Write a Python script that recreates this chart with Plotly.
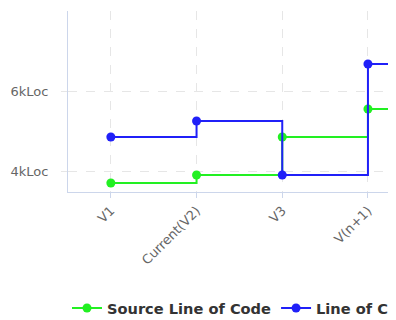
import plotly.graph_objects as go

# versions on the x axis (the last one lies past the right edge of the view)
versions = ['V1', 'Current(V2)', 'V3', 'V(n+1)', 'V(n+2)']
# lines of code per version
source_loc = [3700, 3900, 4850, 5550, 5550]
total_loc = [4850, 5250, 3900, 6675, 6675]
y_ticks = [4000, 6000]
y_tick_text = ['4kLoc', '6kLoc']

green = '#22f022'
blue = '#2020f8'

# the page body has an 8px margin, so the figure is drawn 8px smaller
W, H = 388, 312
left, top, bottom = 60, 3, 184

fig = go.Figure()
fig.add_trace(go.Scatter(
    x=versions, y=source_loc, name='Source Line of Code',
    mode='lines+markers', line_shape='hv',
    line=dict(color=green, width=2), marker=dict(color=green, size=9)
))
fig.add_trace(go.Scatter(
    x=versions, y=total_loc, name='Line of Code',
    mode='lines+markers', line_shape='hv',
    line=dict(color=blue, width=2), marker=dict(color=blue, size=9)
))

fig.update_layout(
    width=W, height=H,
    margin=dict(l=left, r=0, t=top, b=H - bottom, autoexpand=False),
    plot_bgcolor='white', paper_bgcolor='white',
    font=dict(family='DejaVu Sans', color='#666666', size=12),
    showlegend=True,
    legend=dict(
        orientation='h',
        x=(59 - left) / (W - left), y=(bottom - 300) / (bottom - top),
        xanchor='left', yanchor='middle',
        font=dict(size=14.6, color='#333333', family='DejaVu Sans', weight='bold'),
        itemwidth=30,
    ),
    xaxis=dict(
        range=[-0.5, (W - left) / 85.7 - 0.5], automargin=False,
        tickangle=-45, showline=True, linecolor='#ccd6eb', linewidth=1,
        showgrid=True, gridcolor='#e6e6e6', griddash='dash',
        ticks='outside', ticklen=5, tickcolor='#ccd6eb', zeroline=False,
        tickfont=dict(size=13),
    ),
    yaxis=dict(
        range=[3475, 8000], tickvals=y_ticks, ticktext=y_tick_text, automargin=False,
        showline=True, linecolor='#ccd6eb', linewidth=1,
        showgrid=True, gridcolor='#e6e6e6', griddash='dash',
        ticks='outside', ticklen=6, tickcolor='#e6e6e6', zeroline=False,
        ticklabelstandoff=10, tickfont=dict(size=13),
    ),
)

fig.write_html('out.html')
